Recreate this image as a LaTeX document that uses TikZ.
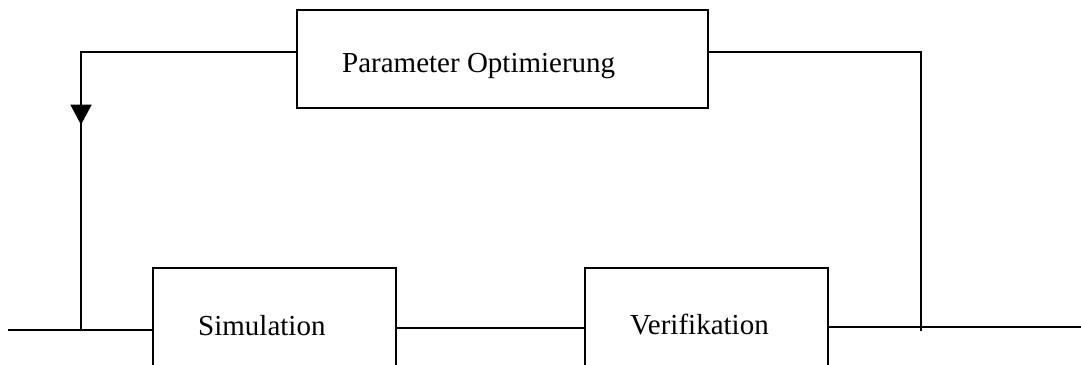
\documentclass[tikz,border=0pt]{standalone}
\usepackage{fontspec}
\setmainfont{Liberation Serif}
\usetikzlibrary{arrows.meta,decorations.markings}

\tikzset{
  blockbox/.style={draw=black, line width=1.4pt, rectangle, inner sep=0pt},
  blocklabel/.style={inner sep=0pt, font=\fontsize{29}{34}\selectfont},
  wire/.style={draw=black, line width=1.4pt},
  backarrow/.style={postaction={decorate}, decoration={markings,
      mark=at position 288pt with {\arrow{Triangle[length=20pt,width=21pt]}}}}
}

\begin{document}
\begin{tikzpicture}[x=1pt, y=-1pt]
  \useasboundingbox (0,0) rectangle (1081,364);
  \clip (0,0) rectangle (1081,364);

  % blocks
  \node[blockbox, minimum width=411pt, minimum height=98pt]  (opt) at (502.5,59) {};
  \node[blockbox, minimum width=243pt, minimum height=110pt] (sim) at (274.5,323) {};
  \node[blockbox, minimum width=243pt, minimum height=110pt] (ver) at (706.5,323) {};

  % block captions
  \node[blocklabel, anchor=base west] (optlabel) at (342,72)  {Parameter Optimierung};
  \node[blocklabel, anchor=base west] (simlabel) at (198,335) {Simulation};
  \node[blocklabel, anchor=base west] (verlabel) at (630,334) {Verifikation};

  % feed line points
  \coordinate (in)    at (8,330);
  \coordinate (out)   at (1081,327);
  \coordinate (cornL) at (81,52);
  \coordinate (tapL)  at (81,330);
  \coordinate (cornR) at (921,52);
  \coordinate (tapR)  at (921,331);

  % main signal path
  \draw[wire] (in) -- (in -| sim.west);
  \draw[wire] (sim.east |- 0,328) -- (ver.west |- 0,328);
  \draw[wire] (ver.east |- out) -- (out);

  % feedback loop through the optimiser
  \draw[wire] (tapR) -- (cornR) -- (opt.east |- cornR);
  \draw[wire, backarrow] (opt.west |- cornL) -- (cornL) -- (tapL);
\end{tikzpicture}
\end{document}
